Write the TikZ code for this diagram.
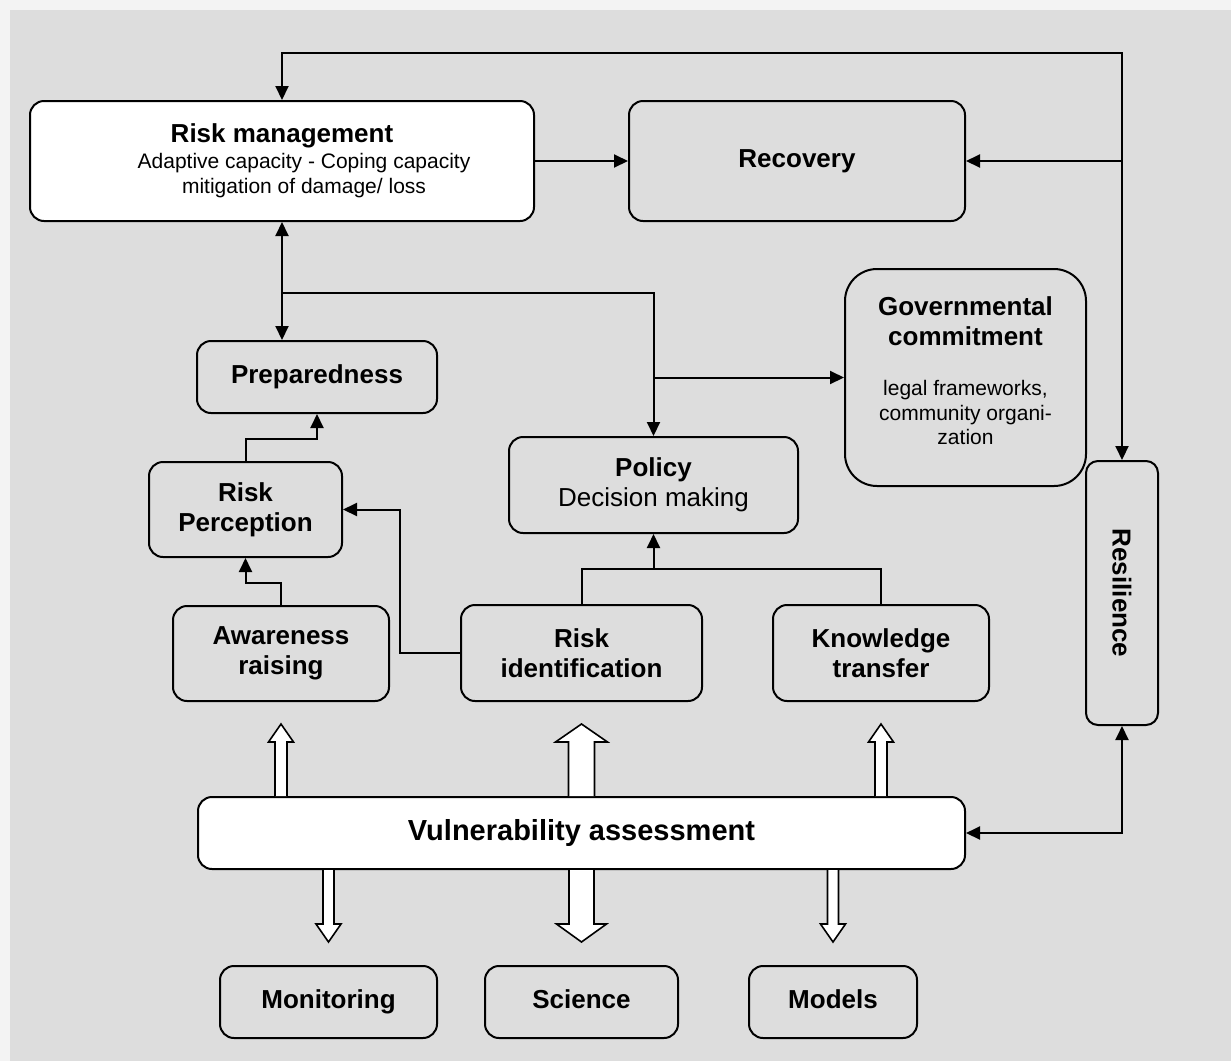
\documentclass[tikz,border=0pt]{standalone}
\usepackage{fontspec}
\setmainfont{Liberation Sans}
\usepackage{graphicx}
\usetikzlibrary{arrows.meta,calc}
\definecolor{panelgray}{HTML}{DDDDDD}
\definecolor{margingray}{HTML}{F3F3F3}
\newcommand{\subtext}{\fontsize{21}{25}\selectfont\mdseries}
\tikzset{
  % Base styles
  flow base/.style={
    x=1pt, y=-1pt,
    >={Triangle[length=14pt,width=13pt]},
    line width=2pt,
    every node/.style={font=\fontsize{26}{30}\selectfont\bfseries},
  },
  % Boxes
  stage box/.style={rectangle, draw, line width=2pt, rounded corners=14pt, fill=panelgray, align=center, inner sep=2pt},
  white box/.style={stage box, fill=white},
  one line/.style={text height=19pt, text depth=6pt},
  % Hollow block arrows
  block arrow/.style={fill=white, draw, line width=1.6pt, line join=miter},
}

\begin{document}
\begin{tikzpicture}[flow base]
% Panel
\fill[margingray] (0,0) rectangle (1231,1061);
\fill[panelgray] (10,10) rectangle (1231,1061);
\useasboundingbox (0,0) rectangle (1231,1061);

% Top row
\node[white box, minimum width=504pt, minimum height=120pt] (riskmgmt) at (282,161)
  {Risk management\\[-4pt]\subtext\hspace*{44pt}Adaptive capacity - Coping capacity\\[-5pt]\subtext\hspace*{44pt}mitigation of damage/ loss};
\node[stage box, one line, minimum width=336pt, minimum height=120pt] (recovery) at (797,161) {Recovery};

% Middle
\node[stage box, one line, minimum width=240pt, minimum height=72pt] (prep) at (317,377) {Preparedness};
\node[stage box, rounded corners=32pt, text depth=13pt, minimum width=241pt, minimum height=217pt] (govt) at (965.5,377.5)
  {Governmental\\commitment\\[20pt]\subtext legal frameworks,\\[-5pt]\subtext community organi-\\[-6pt]\subtext zation};
\node[stage box, minimum width=289pt, minimum height=96pt] (policy) at (653.5,485) {Policy\\\mdseries Decision making};
\node[stage box, minimum width=193pt, minimum height=95pt] (perc) at (245.5,509.5) {Risk\\Perception};
\node[stage box, rounded corners=12pt, minimum width=72pt, minimum height=264pt] (resil) at (1122,593) {\rotatebox{-90}{Resilience}};

% Lower row
\node[stage box, minimum width=216pt, minimum height=95pt] (aware) at (281,653.5) {Awareness\\raising};
\node[stage box, minimum width=241pt, minimum height=96pt] (riskid) at (581.5,653) {Risk\\identification};
\node[stage box, minimum width=216pt, minimum height=96pt] (knowl) at (881,653) {Knowledge\\transfer};

% Assessment and sources
\node[white box, font=\fontsize{29}{33}\selectfont\bfseries, text height=21pt, text depth=6pt,
  minimum width=767pt, minimum height=72pt] (vuln) at (581.5,833) {Vulnerability assessment};
\node[stage box, one line, minimum width=217pt, minimum height=72pt] (monit) at (328.5,1002) {Monitoring};
\node[stage box, one line, minimum width=193pt, minimum height=72pt] (science) at (581.5,1002) {Science};
\node[stage box, one line, minimum width=168pt, minimum height=72pt] (models) at (833,1002) {Models};

% Junctions
\coordinate (loop) at (1122,53);
\coordinate (split) at (282,293);
\coordinate (merge) at (653.5,569);

% Feedback loop
\draw[<->] (riskmgmt.north) |- (loop) -- (resil.north);
\draw[->] (loop |- recovery.east) -- (recovery.east);
\draw[->] (riskmgmt.east) -- (recovery.west);

% Management links
\draw[<->] (riskmgmt.south) -- (riskmgmt.south |- prep.north);
\draw[->] (split) -| (policy.north);
\draw[->] (policy.north |- govt.west) -- (govt.west);

% Perception links
\draw[->] (perc.north) |- ($(prep.south)+(0,25)$) -- (prep.south);
\draw[->] (aware.north) |- ($(perc.south)+(0,25)$) -- (perc.south);
\draw[->] (riskid.west) -- ++(-60,0) |- (perc.east);

% Policy inputs
\draw (riskid.north) |- (merge) -| (knowl.north);
\draw[->] (merge) -- (policy.south);
\draw[<->] (resil.south) |- (vuln.east);

% Hollow arrows up
\foreach \src/\s/\h in {aware/6/12.5, riskid/13/26, knowl/6/12.5}
  \filldraw[block arrow] (vuln.north -| \src.south) ++(-\s,0) -- ++(0,-54) -- ++({\s-\h},0)
    -- ++(\h,-18) -- ++(\h,18) -- ++({\s-\h},0) -- ++(0,54);

% Hollow arrows down
\foreach \dst/\s/\h in {monit/5.5/12.5, science/12.5/25, models/5.5/12.5}
  \filldraw[block arrow] (vuln.south -| \dst.north) ++(-\s,0) -- ++(0,54) -- ++({\s-\h},0)
    -- ++(\h,18) -- ++(\h,-18) -- ++({\s-\h},0) -- ++(0,-54);
\end{tikzpicture}
\end{document}
